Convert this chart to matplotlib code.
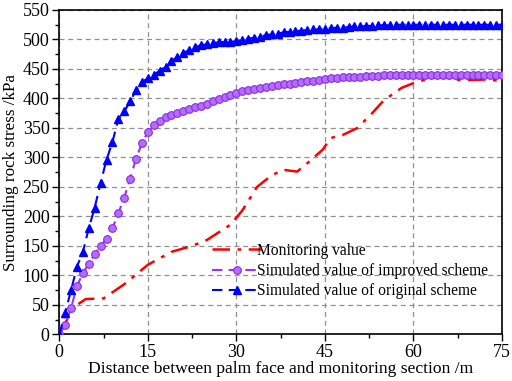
import numpy as np
import matplotlib
matplotlib.use('Agg')
import matplotlib.pyplot as plt
from matplotlib.ticker import MultipleLocator

plt.rcParams['font.family'] = ['Liberation Serif', 'DejaVu Serif']
plt.rcParams['mathtext.fontset'] = 'stix'

# monitoring values (measured, drawn as dash-dot line)
mon_x = [0, 1, 2, 3, 4.5, 7.5, 11, 15, 19, 22.5, 25, 29, 31, 33.5, 36, 38, 40.3,
         42, 44.6, 46, 48, 50.5, 53, 55, 58, 60, 63, 65, 68, 72, 75]
mon_y = [0, 19, 38, 50, 60, 61, 85, 118, 140, 150, 160, 186, 210, 250, 270, 279, 276,
         290, 313, 333, 338, 350, 375, 397, 418, 426, 435, 436, 431, 432, 430]

# simulated values, one point per metre
sim_x = list(range(0, 76))
improved = [0, 16, 45, 82, 104, 120, 136, 150, 162, 180,
            205, 232, 264, 298, 324, 343, 355, 362, 368, 372,
            375, 378, 382, 385, 388, 391, 395, 399, 402, 406,
            409, 412, 414, 416, 418, 420, 421, 423, 424, 425,
            427, 428, 429, 430, 431, 433, 434, 435, 436, 436,
            437, 437, 438, 438, 438, 439, 439, 439, 440, 440,
            440, 440, 440, 440, 440, 440, 440, 440, 440, 440,
            440, 440, 440, 440, 440, 440]
original = [0, 37, 75, 115, 140, 180, 215, 257, 296, 326,
            365, 378, 395, 414, 428, 434, 440, 447, 454, 464,
            470, 477, 482, 487, 490, 492, 494, 495, 496, 496,
            497, 499, 501, 503, 505, 507, 509, 510, 512, 513,
            514, 515, 516, 517, 517, 518, 519, 520, 520, 521,
            522, 522, 523, 523, 524, 524, 524, 525, 525, 525,
            525, 525, 525, 525, 525, 525, 525, 525, 525, 525,
            525, 525, 525, 525, 525, 525]

fig = plt.figure(figsize=(5.12, 3.81), dpi=100)
ax = fig.add_axes([0.1158, 0.1223, 0.8647, 0.8515])

ax.plot(mon_x, mon_y, color='#FF0000', lw=1.8, dashes=(7, 3, 1.5, 3),
        label='Monitoring value', zorder=3)
ax.plot(sim_x, improved, color='#9B30FF', lw=1.5, dashes=(5, 3),
        marker='o', ms=5.5, mfc='#B56CFF', mec='#8A2BE2', mew=0.8,
        label='Simulated value of improved scheme', zorder=4)
ax.plot(sim_x, original, color='#0000FF', lw=1.5, dashes=(5, 3),
        marker='^', ms=6, mfc='#0000FF', mec='#0000FF',
        label='Simulated value of original scheme', zorder=5)

ax.set_xlim(0, 75)
ax.set_ylim(0, 550)
ax.xaxis.set_major_locator(MultipleLocator(15))
ax.xaxis.set_minor_locator(MultipleLocator(7.5))
ax.yaxis.set_major_locator(MultipleLocator(50))
ax.yaxis.set_minor_locator(MultipleLocator(25))
ax.tick_params(which='major', direction='out', length=5, width=1, labelsize=13, pad=2)
ax.tick_params(which='minor', direction='out', length=3, width=1)

ax.grid(True, which='major', color='#909090', ls=(0, (4, 3)), lw=0.9)
for s in ax.spines.values():
    s.set_linewidth(1.2)

ax.set_xlabel('Distance between palm face and monitoring section /m', fontsize=12.6, labelpad=0)
ylab = ax.set_ylabel('Surrounding rock stress /kPa', fontsize=12.3)
ax.yaxis.set_label_coords(-0.109, 0.5)
ylab.set_va('center')

ax.legend(loc='lower left', bbox_to_anchor=(0.33, 0.089), frameon=False, fontsize=11.2,
          handlelength=3.2, handletextpad=-0.3, labelspacing=0.28, borderaxespad=0)

fig.savefig('out.png', dpi=100)
